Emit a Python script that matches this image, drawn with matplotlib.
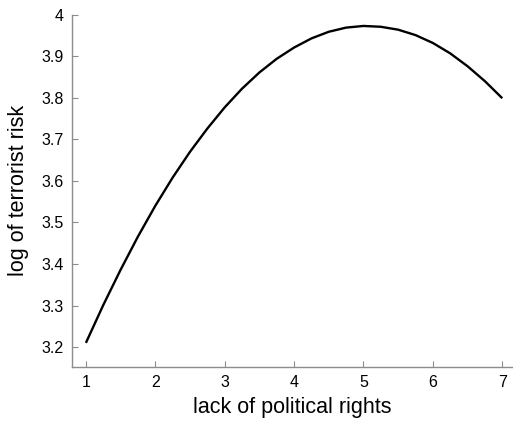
import matplotlib
matplotlib.use("Agg")
import matplotlib.pyplot as plt

# values
political_rights = [1.0, 1.25, 1.5, 1.75, 2.0, 2.25, 2.5, 2.75, 3.0, 3.25, 3.5, 3.75, 4.0,
                    4.25, 4.5, 4.75, 5.0, 5.25, 5.5, 5.75, 6.0, 6.25, 6.5, 6.75, 7.0]
log_risk = [3.210, 3.301, 3.386, 3.466, 3.540, 3.608, 3.670, 3.726, 3.777, 3.822, 3.861,
            3.894, 3.921, 3.943, 3.959, 3.969, 3.973, 3.971, 3.964, 3.951, 3.932, 3.907,
            3.876, 3.840, 3.799]
x_ticks = [1, 2, 3, 4, 5, 6, 7]
y_ticks = [3.2, 3.3, 3.4, 3.5, 3.6, 3.7, 3.8, 3.9, 4.0]
y_tick_labels = ["3.2", "3.3", "3.4", "3.5", "3.6", "3.7", "3.8", "3.9", "4"]

plt.rcParams["font.family"] = ["Liberation Sans", "DejaVu Sans"]

fig = plt.figure(figsize=(5.13, 4.21), dpi=100)
ax = fig.add_axes([0.1404, 0.1283, 0.8576, 0.8367])

ax.plot(political_rights, log_risk, color="black", linewidth=1.7,
        solid_joinstyle="round", solid_capstyle="butt")

ax.set_xlim(0.8, 7.14)
ax.set_ylim(3.152, 4.0)
ax.set_xticks(x_ticks)
ax.set_yticks(y_ticks)
ax.set_yticklabels(y_tick_labels)

for side in ["top", "right"]:
    ax.spines[side].set_visible(False)
for side in ["left", "bottom"]:
    ax.spines[side].set_color("#8c8c8c")
    ax.spines[side].set_linewidth(1.0)

ax.tick_params(direction="in", length=4, width=0.8, color="#8c8c8c",
               labelsize=11.5, labelcolor="black", pad=6)

ax.set_xlabel("lack of political rights", fontsize=15.5, labelpad=5)
ax.set_ylabel("log of terrorist risk", fontsize=15.5, labelpad=9)

fig.savefig("out.png", dpi=100)
plt.close(fig)
